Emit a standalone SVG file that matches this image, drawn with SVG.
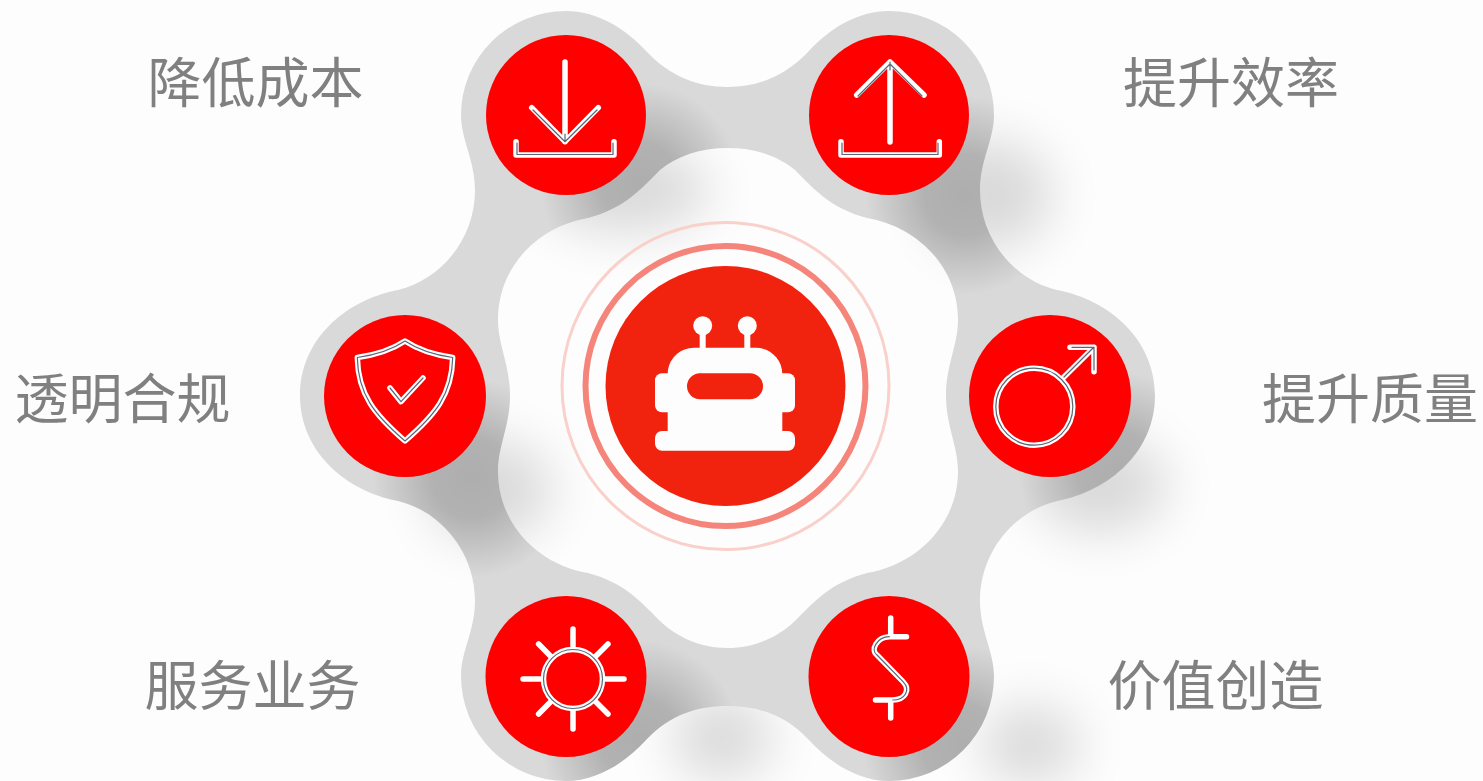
<svg xmlns="http://www.w3.org/2000/svg" width="1483" height="781" viewBox="0 0 1483 781">
<style>
.lbl{font-family:"Noto Sans CJK SC","Noto Sans",sans-serif;font-size:54px;fill:#808080}
.disc{fill:#ff0000}
.w{fill:none;stroke:#fff;stroke-width:5.500;stroke-linecap:round;stroke-linejoin:round}
.k{fill:none;stroke:#5b6577;stroke-width:1.200;stroke-linecap:round;stroke-linejoin:round}
.ws{fill:#fdfdfd}
</style>
<defs>
<path id="ringPath" fill-rule="evenodd" d="M727.5 87C758 87 785 76 808 52C830 28 858 11 889 11A105 104 0 0 1 994 115C994 140 980 160 980 190C980 240 1015 280 1057 290C1110 300 1155 340 1155 395.5C1155 451 1110 491 1057 501C1015 511 980 551 980 601C980 631 994 651 994 676A105 105 0 0 1 889 781C858 781 830 763 808 739C785 715 758 706 727.5 706C697 706 670 715 647 739C625 763 597 781 566 781A105 105 0 0 1 461 676C461 651 475 631 475 601C475 551 440 511 398 501C345 491 300 451 300 395.5C300 340 345 300 398 290C440 280 475 240 475 190C475 160 461 140 461 115A105 104 0 0 1 566 11C597 11 625 28 647 52C670 76 697 87 727.5 87Z M727.5 148C755 148 778 156 795 170C815 190 830 208 867 218C915 226 958 265 958 320C958 345 946 365 946 395.5C946 426 958 446 958 471C958 526 915 565 867 573C830 583 815 601 795 621C778 637 755 648 727.5 648C700 648 677 637 660 621C640 601 625 583 588 573C540 565 498 526 498 471C498 446 510 426 510 395.5C510 365 498 345 498 320C498 265 540 226 588 218C625 208 640 190 660 170C677 156 700 148 727.5 148Z"/>
<clipPath id="ringClip"><use href="#ringPath" clip-rule="evenodd"/></clipPath>
<filter id="blur" x="-80%" y="-80%" width="260%" height="260%"><feGaussianBlur stdDeviation="26"/></filter>
<radialGradient id="sh"><stop offset="0" stop-color="#000" stop-opacity=".2"/><stop offset=".4" stop-color="#000" stop-opacity=".18"/><stop offset="1" stop-color="#000" stop-opacity="0"/></radialGradient>
</defs>
<rect width="1483" height="781" fill="#fdfdfd"/>
<g id="shadows" fill="#000" opacity=".14" filter="url(#blur)">
<ellipse cx="625" cy="190" rx="85" ry="42"/>
<ellipse cx="990" cy="195" rx="62" ry="55"/>
<ellipse cx="490" cy="490" rx="62" ry="50"/>
<ellipse cx="1100" cy="485" rx="68" ry="48"/>
<ellipse cx="722" cy="738" rx="50" ry="42"/>
<ellipse cx="1030" cy="745" rx="50" ry="40"/>
</g>
<g id="ring">
<use href="#ringPath" fill="#d9d9d9"/>
<g clip-path="url(#ringClip)">
<circle cx="640" cy="183" r="100" fill="url(#sh)"/>
<circle cx="965" cy="195" r="100" fill="url(#sh)"/>
<circle cx="472" cy="478" r="100" fill="url(#sh)"/>
<circle cx="1118" cy="472" r="100" fill="url(#sh)"/>
<circle cx="640" cy="740" r="100" fill="url(#sh)"/>
<circle cx="963" cy="745" r="100" fill="url(#sh)"/>
</g>
</g>
<g id="center">
<circle cx="725.5" cy="386" r="163.5" fill="none" stroke="#f9d0ca" stroke-width="3"/>
<circle cx="725.5" cy="386" r="140" fill="none" stroke="#f5857a" stroke-width="6"/>
<circle cx="725.5" cy="386" r="120" fill="#f1230f"/>
<g class="ws">
<circle cx="702.7" cy="325.7" r="9.5"/>
<circle cx="747.3" cy="325.7" r="9.5"/>
<rect x="699.7" y="333" width="6" height="18"/>
<rect x="744.3" y="333" width="6" height="18"/>
<path d="M667.7 435V374C667.7 359 680 347.7 694 347.7H756C770 347.7 782.3 359 782.3 374V435Z"/>
<rect x="655" y="373.3" width="140" height="39" rx="7"/>
<rect x="655" y="431" width="140" height="19.700" rx="7"/>
</g>
<rect x="687" y="373.300" width="76" height="26" rx="13" fill="#f1230f"/>
</g>
<g id="node-cost">
<circle class="disc" cx="566" cy="115" r="80"/>
<path class="w" d="M565 62V141.700M531.700 107.700L565 141.700L598.300 107.700M516 141.700V155H614V141.700"/>
<path class="k" d="M565 134V141.700M533 110L565 141.700L597 110M517 143V154.500H613V143"/>
<text class="lbl" x="147.500" y="103">降低成本</text>
</g>
<g id="node-efficiency">
<circle class="disc" cx="889" cy="115" r="80"/>
<path class="w" d="M890 62V142M856.700 95L890 62L924 95M841 141.700V155H939.300V141.700"/>
<path class="k" d="M890 62V70M858 96L890 64L922 96M842 143V154.500H938V143"/>
<text class="lbl" x="1123" y="103">提升效率</text>
</g>
<g id="node-compliance">
<circle class="disc" cx="405" cy="396" r="81"/>
<path class="w" d="M405 341C390 351 375 355 357.300 357.500C358 395 375 415 405 441C435 415 452 395 452.700 357.500C435 355 420 351 405 341ZM390 388L401 401.700L423 378"/>
<path class="k" d="M405 341C390 351 375 355 357.300 357.500C358 395 375 415 405 441C435 415 452 395 452.700 357.500C435 355 420 351 405 341ZM390 388L401 401.700L423 378"/>
<text class="lbl" x="14.500" y="419">透明合规</text>
</g>
<g id="node-quality">
<circle class="disc" cx="1050" cy="396" r="81"/>
<path class="w" d="M1062.700 378.300L1094 347.300M1070 347.300H1094V371.700"/>
<circle class="w" cx="1034.300" cy="406.700" r="38.500"/>
<path class="k" d="M1064 377L1093 348M1072 347.300H1094V370"/>
<circle class="k" cx="1034.300" cy="406.700" r="38.500"/>
<text class="lbl" x="1262" y="419">提升质量</text>
</g>
<g id="node-service">
<circle class="disc" cx="566" cy="676.500" r="80.500"/>
<circle class="w" cx="573" cy="679" r="29.500"/>
<path class="w" d="M573 629V648M573 710V729M523 679H542M605 679H624M538.600 644L551.400 657M608 644L595 657M538.600 714L551.400 701M608 714L595 701"/>
<circle class="k" cx="573" cy="679" r="29.500"/>
<text class="lbl" x="144.500" y="706">服务业务</text>
</g>
<g id="node-value">
<circle class="disc" cx="889" cy="676.500" r="80.500"/>
<path id="dollar" class="w" d="M890.700 618V636.700M890.700 700V718M906.500 636.700H889.300C877 637 870 650 877 655L903 681.700C911 690 905 700 892.800 700H875.500"/>
<path class="k" d="M889.300 636.700C877 637 870 650 877 655L903 681.700C911 690 905 700 892.800 700"/>
<text class="lbl" x="1107.500" y="706">价值创造</text>
</g>
</svg>
